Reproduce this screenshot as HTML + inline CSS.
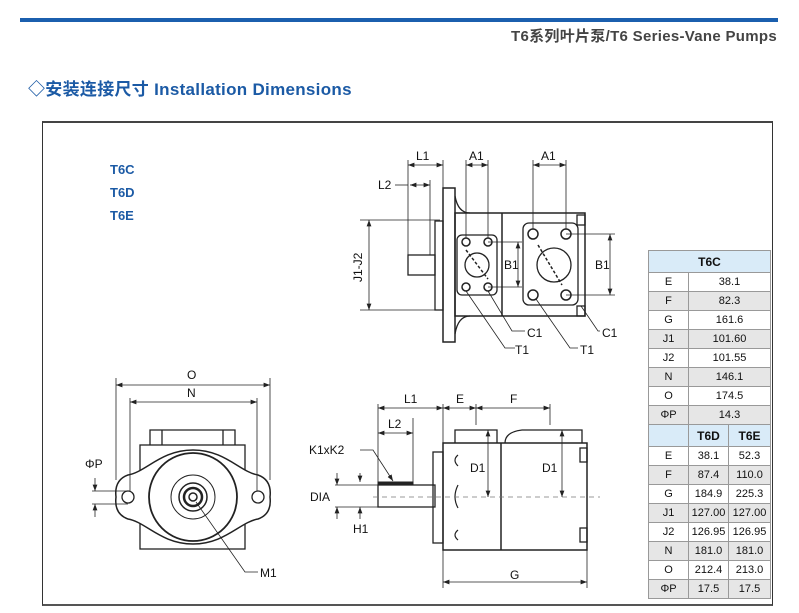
<!DOCTYPE html>
<html><head><meta charset="utf-8"><style>
body{margin:0;width:799px;height:613px;background:#fff;overflow:hidden;position:relative;font-family:"Liberation Sans","Noto Sans CJK SC",sans-serif}
.t{position:absolute}
table{border-collapse:collapse;position:absolute;left:648px;top:250px;font-size:11px;color:#111}
td{border:1px solid #999;text-align:center;height:18px;padding:0}
.h{background:#d9ebf8;font-weight:bold;font-size:12px;height:21px}
.g td{background:#e6e6e6}
</style></head><body>
<div class="t" style="left:20px;top:18px;width:758px;height:4px;background:#1b5fae"></div>
<div class="t" style="right:22px;top:25px;font-size:15px;font-weight:bold;color:#444;letter-spacing:0.3px">T6系列叶片泵/T6 Series-Vane Pumps</div>
<div class="t" style="left:28px;top:75px;font-size:17px;font-weight:bold;color:#1b5aa5;letter-spacing:0.3px">◇安装连接尺寸 Installation Dimensions</div>
<div class="t" style="left:42px;top:121px;width:729px;height:481px;border:1px solid #333;border-top:2px solid #444;border-bottom:2px solid #555"></div>
<div class="t" style="left:110px;top:158px;font-size:13px;font-weight:bold;color:#1b5aa5;line-height:23px">T6C<br>T6D<br>T6E</div>
<svg class="t" style="left:0;top:0" width="799" height="613" font-family="Liberation Sans" font-size="12" fill="none" stroke="#222" stroke-width="1">
<defs><marker id="a" markerWidth="8" markerHeight="6" refX="8" refY="3" orient="auto-start-reverse"><path d="M0,0L8,3L0,6z" fill="#222" stroke="none"/></marker></defs>
<!-- top view -->
<rect x="443" y="188" width="12" height="154" stroke-width="1.5"/>
<path d="M455,196 Q458,213 470,213 M455,334 Q458,316 470,316" stroke-width="1.3"/>
<rect x="455" y="213" width="130" height="103" stroke-width="1.5"/>
<line x1="502" y1="213" x2="502" y2="316" stroke-width="1.5"/>
<rect x="435" y="221" width="8" height="89" stroke-width="1.3"/>
<rect x="408" y="255" width="27" height="20" stroke-width="1.3"/>
<rect x="457" y="235" width="40" height="60" rx="5" stroke-width="1.3"/>
<circle cx="466" cy="242" r="4" stroke-width="1.5"/><circle cx="488" cy="242" r="4" stroke-width="1.5"/><circle cx="466" cy="287" r="4" stroke-width="1.5"/><circle cx="488" cy="287" r="4" stroke-width="1.5"/>
<circle cx="477" cy="265" r="12" stroke-width="1.3"/>
<line x1="466" y1="250" x2="488" y2="279" stroke-dasharray="3,2" stroke-width="1.5"/>
<rect x="523" y="223" width="55" height="82" rx="6" stroke-width="1.3"/>
<circle cx="533" cy="234" r="5" stroke-width="1.5"/><circle cx="566" cy="234" r="5" stroke-width="1.5"/><circle cx="533" cy="295" r="5" stroke-width="1.5"/><circle cx="566" cy="295" r="5" stroke-width="1.5"/>
<circle cx="554" cy="265" r="17" stroke-width="1.3"/>
<line x1="538" y1="245" x2="562" y2="285" stroke-dasharray="3,2" stroke-width="1.5"/>
<rect x="577" y="215" width="8" height="10" stroke-width="1.3"/><rect x="577" y="306" width="8" height="10" stroke-width="1.3"/>
<g stroke-width="0.8">
<line x1="360" y1="220" x2="440" y2="220"/><line x1="360" y1="310" x2="440" y2="310"/>
<line x1="369" y1="220" x2="369" y2="310" marker-start="url(#a)" marker-end="url(#a)"/>
<line x1="408" y1="160" x2="408" y2="255"/><line x1="443" y1="160" x2="443" y2="188"/><line x1="430" y1="180" x2="430" y2="255"/>
<line x1="408" y1="165" x2="443" y2="165" marker-start="url(#a)" marker-end="url(#a)"/>
<line x1="395" y1="185" x2="408" y2="185"/><line x1="410" y1="185" x2="430" y2="185" marker-start="url(#a)" marker-end="url(#a)"/>
<line x1="466" y1="160" x2="466" y2="238"/><line x1="488" y1="160" x2="488" y2="238"/>
<line x1="466" y1="165" x2="488" y2="165" marker-start="url(#a)" marker-end="url(#a)"/>
<line x1="533" y1="160" x2="533" y2="229"/><line x1="566" y1="160" x2="566" y2="229"/>
<line x1="533" y1="165" x2="566" y2="165" marker-start="url(#a)" marker-end="url(#a)"/>
<line x1="488" y1="242" x2="522" y2="242"/><line x1="488" y1="287" x2="522" y2="287"/>
<line x1="518" y1="242" x2="518" y2="287" marker-start="url(#a)" marker-end="url(#a)"/>
<line x1="566" y1="234" x2="615" y2="234"/><line x1="566" y1="295" x2="615" y2="295"/>
<line x1="610" y1="234" x2="610" y2="295" marker-start="url(#a)" marker-end="url(#a)"/>
<path d="M488,291 L512,331 L525,331 M466,291 L505,348 L515,348 M581,306 L598,331 L600,331 M536,299 L570,348 L578,348"/>
</g>
<g fill="#111" stroke="none">
<text x="416" y="160">L1</text><text x="378" y="189">L2</text><text x="469" y="160">A1</text><text x="541" y="160">A1</text>
<text x="504" y="269">B1</text><text x="595" y="269">B1</text><text x="527" y="337">C1</text><text x="602" y="337">C1</text><text x="515" y="354">T1</text><text x="580" y="354">T1</text>
<text transform="translate(362,282) rotate(-90)">J1-J2</text>
</g>
<!-- front view -->
<rect x="140" y="445" width="105" height="104" stroke-width="1.3"/>
<path d="M150,445V430H235V445M162,430V445M223,430V445" stroke-width="1.3"/>
<path d="M193,450 C225,450 240,472 258,475 Q272,480 270,497 Q272,514 258,519 C240,522 225,544 193,544 C161,544 146,522 128,519 Q114,514 116,497 Q114,480 128,475 C146,472 161,450 193,450Z" fill="#fff" stroke-width="1.5"/>
<circle cx="128" cy="497" r="6" stroke-width="1.3"/><circle cx="258" cy="497" r="6" stroke-width="1.3"/>
<circle cx="193" cy="497" r="44" stroke-width="1.8"/>
<circle cx="193" cy="497" r="22" stroke-width="1"/><circle cx="193" cy="497" r="14" stroke-width="1.5"/><circle cx="193" cy="497" r="9" stroke-width="2.5"/><circle cx="193" cy="497" r="4" stroke-width="1.5"/>
<g stroke-width="0.8">
<line x1="116" y1="378" x2="116" y2="480"/><line x1="270" y1="378" x2="270" y2="480"/>
<line x1="116" y1="385" x2="270" y2="385" marker-start="url(#a)" marker-end="url(#a)"/>
<line x1="130" y1="398" x2="130" y2="491"/><line x1="257" y1="398" x2="257" y2="491"/>
<line x1="130" y1="402" x2="257" y2="402" marker-start="url(#a)" marker-end="url(#a)"/>
<line x1="92" y1="491" x2="128" y2="491"/><line x1="92" y1="504" x2="128" y2="504"/>
<line x1="95" y1="478" x2="95" y2="491" marker-end="url(#a)"/><line x1="95" y1="517" x2="95" y2="504" marker-end="url(#a)"/>
<path d="M196,502 L245,572 L258,572"/>
</g>
<g fill="#111" stroke="none"><text x="187" y="379">O</text><text x="187" y="397">N</text><text x="85" y="468">ΦP</text><text x="260" y="577">M1</text></g>
<!-- side view -->
<rect x="378" y="485" width="57" height="22" stroke-width="1.3"/>
<rect x="378" y="482" width="35" height="3" fill="#222"/>
<rect x="433" y="452" width="10" height="91" stroke-width="1.3"/>
<rect x="443" y="443" width="144" height="107" stroke-width="1.5"/>
<line x1="501" y1="443" x2="501" y2="550" stroke-width="1.5"/>
<path d="M455,443V430H497V443M505,443Q505,432 522,430H582V443" stroke-width="1.3"/>
<path d="M458,455Q452,460 458,466M458,485Q452,497 458,508M458,530Q452,535 458,540" stroke-width="1.2"/>
<rect x="580" y="448" width="7" height="14" stroke-width="1.3"/><rect x="580" y="528" width="7" height="14" stroke-width="1.3"/>
<line x1="373" y1="497" x2="600" y2="497" stroke-dasharray="5,4" stroke="#777" stroke-width="0.8"/>
<g stroke-width="0.8">
<line x1="378" y1="404" x2="378" y2="482"/><line x1="443" y1="404" x2="443" y2="443"/><line x1="413" y1="418" x2="413" y2="482"/>
<line x1="476" y1="404" x2="476" y2="425"/><line x1="550" y1="404" x2="550" y2="425"/><line x1="587" y1="550" x2="587" y2="588"/><line x1="443" y1="550" x2="443" y2="588"/>
<line x1="378" y1="408" x2="443" y2="408" marker-start="url(#a)" marker-end="url(#a)"/>
<line x1="443" y1="408" x2="476" y2="408" marker-start="url(#a)" marker-end="url(#a)"/>
<line x1="476" y1="408" x2="550" y2="408" marker-start="url(#a)" marker-end="url(#a)"/>
<line x1="378" y1="433" x2="413" y2="433" marker-start="url(#a)" marker-end="url(#a)"/>
<line x1="443" y1="582" x2="587" y2="582" marker-start="url(#a)" marker-end="url(#a)"/>
<line x1="488" y1="430" x2="488" y2="497" marker-start="url(#a)" marker-end="url(#a)"/>
<line x1="562" y1="430" x2="562" y2="497" marker-start="url(#a)" marker-end="url(#a)"/>
<line x1="335" y1="485" x2="378" y2="485"/><line x1="335" y1="507" x2="378" y2="507"/>
<line x1="337" y1="473" x2="337" y2="485" marker-end="url(#a)"/><line x1="337" y1="519" x2="337" y2="507" marker-end="url(#a)"/>
<line x1="360" y1="473" x2="360" y2="482" marker-end="url(#a)"/><line x1="360" y1="519" x2="360" y2="507" marker-end="url(#a)"/>
<path d="M360,450 L373,450 L393,481" marker-end="url(#a)"/>
</g>
<g fill="#111" stroke="none"><text x="404" y="403">L1</text><text x="388" y="428">L2</text><text x="456" y="403">E</text><text x="510" y="403">F</text>
<text x="309" y="454">K1xK2</text><text x="310" y="501">DIA</text><text x="353" y="533">H1</text><text x="470" y="472">D1</text><text x="542" y="472">D1</text><text x="510" y="579">G</text></g>
</svg>
<table>
<tr><td class="h" colspan="3" style="width:121px">T6C</td></tr>
<tr><td style="width:39px">E</td><td colspan="2">38.1</td></tr>
<tr class="g"><td>F</td><td colspan="2">82.3</td></tr>
<tr><td>G</td><td colspan="2">161.6</td></tr>
<tr class="g"><td>J1</td><td colspan="2">101.60</td></tr>
<tr><td>J2</td><td colspan="2">101.55</td></tr>
<tr class="g"><td>N</td><td colspan="2">146.1</td></tr>
<tr><td>O</td><td colspan="2">174.5</td></tr>
<tr class="g"><td>ΦP</td><td colspan="2">14.3</td></tr>
<tr><td class="h"></td><td class="h" style="width:39px">T6D</td><td class="h">T6E</td></tr>
<tr><td>E</td><td>38.1</td><td>52.3</td></tr>
<tr class="g"><td>F</td><td>87.4</td><td>110.0</td></tr>
<tr><td>G</td><td>184.9</td><td>225.3</td></tr>
<tr class="g"><td>J1</td><td>127.00</td><td>127.00</td></tr>
<tr><td>J2</td><td>126.95</td><td>126.95</td></tr>
<tr class="g"><td>N</td><td>181.0</td><td>181.0</td></tr>
<tr><td>O</td><td>212.4</td><td>213.0</td></tr>
<tr class="g"><td>ΦP</td><td>17.5</td><td>17.5</td></tr>
</table>
</body></html>
